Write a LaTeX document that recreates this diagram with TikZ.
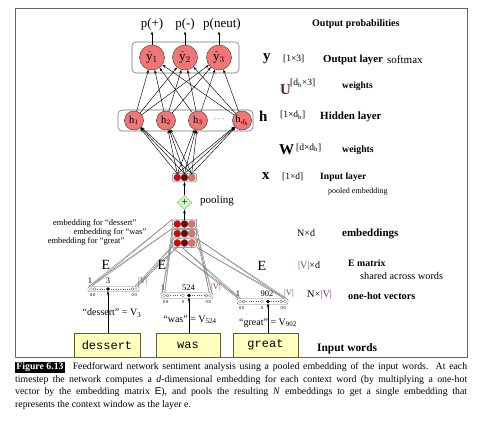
\documentclass[tikz,border=0pt]{standalone}
\usepackage{fontspec}
\setmainfont{Liberation Serif}
\setsansfont{Liberation Sans}
\setmonofont{Liberation Mono}
\usetikzlibrary{arrows.meta,shapes.geometric,calc}
\definecolor{neuron}{RGB}{242,118,118}
\definecolor{cred}{RGB}{228,0,0}
\definecolor{cdark}{RGB}{125,0,0}
\definecolor{csalmon}{RGB}{228,114,100}
\definecolor{vpurple}{RGB}{140,60,120}
\definecolor{upurple}{RGB}{85,30,70}
\definecolor{wordfill}{RGB}{255,255,192}
\definecolor{wordline}{RGB}{95,95,40}
\definecolor{dgreen}{RGB}{204,255,204}
\definecolor{dborder}{RGB}{185,185,70}
\newcommand\fs[1]{\fontsize{#1}{#1}\selectfont}
\newcommand\hotcells[6]{% L, R, y, dotx, extra(0/1), mid-label
  \foreach \cx in {#1+3,#1+6.6,#2-6.6,#2-3}
    \draw[black!60, line width=0.3pt] (\cx,#3) circle (1.5);
  \ifnum#5=1
    \draw[black!60, line width=0.3pt] (#4-6,#3) circle (1.5);
    \draw[black!65, line width=0.9pt, dash pattern=on 1pt off 1.3pt] (#1+9.3,#3) -- (#4-8.5,#3);
  \else
    \draw[black!65, line width=0.9pt, dash pattern=on 1pt off 1.3pt] (#1+9.3,#3) -- (#4-3,#3);
  \fi
  \draw[black!65, line width=0.9pt, dash pattern=on 1pt off 1.3pt] (#4+3,#3) -- (#2-9.3,#3);
  \node[tiny] at (#1+4.8,#3+6.5) {0\,0};
  \node[tiny] at (#2-4.8,#3+6.5) {0\,0};
  \node[tiny] at (#4,#3+6.5) {#6};
}
\tikzset{
  frame/.style={draw=black!60, line width=0.7pt},
  outn/.style={circle, draw=black!70, fill=neuron, minimum size=25pt, inner sep=0pt, line width=0.5pt, font=\fs{13}},
  hidn/.style={circle, draw=black!70, fill=neuron, minimum size=19pt, inner sep=0pt, line width=0.5pt, font=\fs{10.5}},
  layerbox/.style={draw=black!55, rounded corners=4pt, line width=0.6pt, inner sep=0pt},
  smallbox/.style={draw=black!55, fill=white, rounded corners=1.5pt, line width=0.5pt, minimum width=24pt, minimum height=8.5pt, inner sep=0pt},
  cellc/.style={circle, draw=black!60, minimum size=7.2pt, inner sep=0pt, line width=0.3pt},
  vecbox/.style={draw=black!55, fill=white, rounded corners=1.2pt, line width=0.45pt, minimum height=5.5pt, inner sep=0pt},
  hot/.style={circle, fill=black, minimum size=3.6pt, inner sep=0pt},
  arr/.style={-{Stealth[length=3.5pt,width=2.6pt]}, line width=0.45pt},
  gline/.style={draw=black!50, line width=0.4pt},
  plab/.style={inner sep=1.5pt, font=\fs{13}},
  txt/.style={inner sep=0pt, anchor=west, font=\fs{#1}},
  btxt/.style={inner sep=0pt, anchor=west, font=\bfseries\fs{#1}},
  tiny/.style={inner sep=0pt, font=\fs{4.5}},
  vlab/.style={inner sep=0pt, font=\fs{8.5}},
  wordbox/.style={draw=wordline, fill=wordfill, line width=0.6pt, minimum width=66pt, minimum height=24pt, inner sep=0pt, font=\ttfamily\fs{12}},
  pooln/.style={diamond, draw=dborder, fill=dgreen, line width=0.6pt, minimum width=15pt, minimum height=14pt, inner sep=0pt, font=\fs{11}},
}
\begin{document}
\begin{tikzpicture}[x=1pt,y=-1pt]
\useasboundingbox (0,0) rectangle (480,423);
\fill[white] (0,0) rectangle (480,423);
\draw[frame] (15,8) rectangle (467,357);

% ---------- output layer
\node[layerbox, minimum width=107pt, minimum height=31pt] (obox) at (185.5,57.5) {};
\node[outn] (y1) at (152,57.5) {$\hat{\mathrm{y}}_1$};
\node[outn] (y2) at (185,57.5) {$\hat{\mathrm{y}}_2$};
\node[outn] (y3) at (219,57.5) {$\hat{\mathrm{y}}_3$};
\node[plab] (p1) at (152,24) {p(+)};
\node[plab] (p2) at (185,24) {p(-)};
\node[plab] (p3) at (222,24) {p(neut)};
\foreach \i in {1,2,3} \draw[arr] (y\i) -- (y\i |- p\i.south);

% ---------- hidden layer
\node[layerbox, minimum width=135pt, minimum height=21pt] (hbox) at (185.5,120.5) {};
\node[hidn] (h1) at (134,120.5) {$\mathrm{h}_1$};
\node[hidn] (h2) at (166,120.5) {$\mathrm{h}_2$};
\node[hidn] (h3) at (198,120.5) {$\mathrm{h}_3$};
\node[inner sep=0pt, font=\fs{9}] (hdots) at (219,119.5) {$\cdots$};
\node[hidn] (hd) at (242,120.5) {$\mathrm{h}_{d_\mathrm{h}}$};
\foreach \h in {h1,h2,h3,hd}{\foreach \o in {y1,y2,y3}{\draw[arr] (\h) -- (\o);}}

% ---------- input layer x
\node[smallbox] (xbox) at (184.5,177.5) {};
\node[cellc, fill=cred] (x1) at (177.3,177.5) {};
\node[cellc, fill=cdark] (x2) at (184.5,177.5) {};
\node[cellc, fill=csalmon] (x3) at (191.7,177.5) {};
\foreach \x in {x1,x2,x3}{\foreach \h in {h1,h2,h3,hd}{\draw[arr] (\x.north) -- (\h);}}

% ---------- pooling
\node[pooln] (pool) at (184.5,202.5) {+};
\node[txt=11] (tpool) at (200,201) {pooling};
\draw[arr] (pool) -- (xbox);

% ---------- one-hot vectors
\node[vecbox, minimum width=51pt] (v1) at (113.5,289) {};
\node[vecbox, minimum width=52pt] (v2) at (187,295.5) {};
\node[vecbox, minimum width=51pt] (v3) at (262.5,301.5) {};
\hotcells{88}{139}{289}{108}{0}{$\cdots$\,1\,$\cdots$}
\hotcells{161}{213}{295.5}{189}{1}{1}
\node[tiny] at (183,302) {0};
\hotcells{237}{288}{301.5}{268}{1}{1}
\node[tiny] at (262,308) {0};
\node[hot] (d1) at (108,289) {};
\node[hot] (d2) at (189,295.5) {};
\node[hot] (d3) at (268,301.5) {};
\node[vlab] (n1a) at (90,281) {1};
\node[vlab] (n1b) at (108,281) {3};
\node[vlab, text=vpurple] (n1c) at (143,281) {|V|};
\node[vlab] (n2a) at (163,287.5) {1};
\node[vlab] (n2b) at (188.5,287.5) {524};
\node[vlab, text=vpurple] (n2c) at (216,287.5) {|V|};
\node[vlab] (n3a) at (238,293.5) {1};
\node[vlab] (n3b) at (267,293.5) {902};
\node[vlab, text=vpurple] (n3c) at (289,293.5) {|V|};

% ---------- projection lines (vector -> embedding)
\node[smallbox, draw=none, fill=none] (e1) at (184.5,224) {};
\node[smallbox, draw=none, fill=none] (e2) at (184.5,233.5) {};
\node[smallbox, draw=none, fill=none] (e3) at (184.5,243) {};
\foreach \k in {1,2,3}{
  \foreach \s in {1.5,4}{
    \draw[gline] ([xshift=\s pt]v\k.north west) -- (e\k.south west);
    \draw[gline] ([xshift=\s pt]v\k.north west) -- (e\k.north west);
    \draw[gline] ([xshift=-\s pt]v\k.north east) -- (e\k.south east);
    \draw[gline] ([xshift=-\s pt]v\k.north east) -- (e\k.north east);
  }
}

% ---------- embedding stack
\foreach \k/\yy in {1/224,2/233.5,3/243}{
  \node[smallbox] (eb\k) at (184.5,\yy) {};
  \node[cellc, fill=cred] (ea\k) at (177.3,\yy) {};
  \node[cellc, fill=cdark] (em\k) at (184.5,\yy) {};
  \node[cellc, fill=csalmon] (ez\k) at (191.7,\yy) {};
}
\draw[arr] (eb1) -- (pool);

\node[txt=8.5, anchor=east] (le1) at (136.5,223) {embedding for ``dessert''};
\node[txt=8.5, anchor=east] (le2) at (146.5,232) {embedding for ``was''};
\node[txt=8.5, anchor=east] (le3) at (124.5,241.5) {embedding for ``great''};

\node[txt=14, anchor=center] (E1) at (106,265) {E};
\node[txt=14, anchor=center] (E2) at (162,265) {E};
\node[txt=14, anchor=center] (E3) at (262,266) {E};

% ---------- words
\node[wordbox] (w1) at (107,345) {dessert};
\node[wordbox, minimum width=64pt] (w2) at (188,345) {was};
\node[wordbox, minimum width=65pt] (w3) at (265.5,345) {great};
\node[txt=10, anchor=center] (q1) at (112,313) {``dessert'' = V\textsubscript{3}};
\node[txt=10, anchor=center] (q2) at (190,319.5) {``was'' = V\textsubscript{524}};
\node[txt=10, anchor=center] (q3) at (268,323) {``great'' = V\textsubscript{902}};
\draw[arr] (w1.north -| d1) -- (d1);
\draw[arr] (w2.north -| d2) -- (d2);
\draw[arr] (w3.north -| d3) -- (d3);

% ---------- right labels
\node[btxt=10] (t0) at (312,24) {Output probabilities};
\node[btxt=15] (ty) at (263,59) {y};
\node[txt=9.5] (ty2) at (283,59) {[1×3]};
\node[btxt=10.8] (ty3) at (323,60) {Output layer};
\node[txt=11] (ty4) at (387,59.5) {softmax};
\node[btxt=15, text=upurple] (tu) at (280,90) {U};
\node[txt=9.5] (tu2) at (290,83) {[d\textsubscript{h}×3]};
\node[btxt=9.5] (tu3) at (342,86) {weights};
\node[btxt=15] (th) at (259,116) {h};
\node[txt=9.5] (th2) at (280,115) {[1×d\textsubscript{h}]};
\node[btxt=11] (th3) at (320,117) {Hidden layer};
\node[btxt=15] (tw) at (279,150) {W};
\node[txt=9.5] (tw2) at (296,147.5) {[d×d\textsubscript{h}]};
\node[btxt=9.8] (tw3) at (342,150) {weights};
\node[btxt=15] (tx) at (262,176) {x};
\node[txt=9.5] (tx2) at (282,177) {[1×d]};
\node[btxt=9.6] (tx3) at (320,177) {Input layer};
\node[txt=8] (tx4) at (328,192) {pooled embedding};
\node[txt=10] (te1) at (297,233) {N×d};
\node[btxt=11] (te2) at (342,233.5) {embeddings};
\node[txt=10] (tm1) at (298,266) {\textcolor{vpurple}{|V|}×d};
\node[btxt=9.8] (tm2) at (348,263.5) {E matrix};
\node[txt=10.3] (tm3) at (360,276) {shared across words};
\node[txt=10.3] (to1) at (307,295) {N×\textcolor{vpurple}{|V|}};
\node[btxt=10.3] (to2) at (348,295.5) {one-hot vectors};
\node[btxt=11.4] (tiw) at (317,349) {Input words};

% ---------- caption
\node[anchor=north west, inner sep=0pt, text width=452pt, align=justify,
      font=\fontsize{9.8}{12.6}\selectfont] (cap) at (15,361.5)
 {\noindent{\setlength{\fboxsep}{1.2pt}\colorbox{black}{\textcolor{white}{\bfseries Figure 6.13}}}\hspace{8pt}Feedforward network sentiment analysis using a pooled embedding of the input words. At each\linebreak
 timestep the network computes a \textit{d}-dimensional embedding for each context word (by multiplying a one-hot\linebreak
 vector by the embedding matrix \textsf{E}), and pools the resulting \textit{N} embeddings to get a single embedding that\linebreak
 represents the context window as the layer e.};
\end{tikzpicture}
\end{document}
